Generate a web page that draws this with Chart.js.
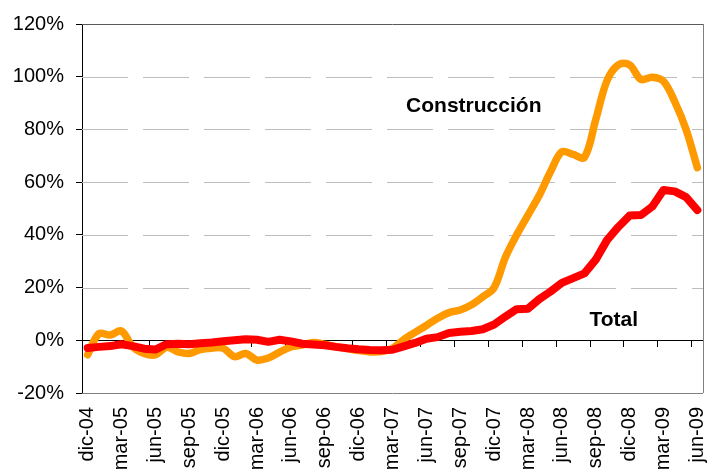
<!DOCTYPE html>
<html>
<head>
<meta charset="utf-8">
<script src="https://cdn.jsdelivr.net/npm/chart.js@4/dist/chart.umd.min.js"></script>
<style>
  body { margin: 0; background: #fff; overflow: hidden; }
  #grafico { display: block; }
</style>
</head>
<body>
<canvas id="grafico" width="709" height="472"></canvas>
<script>
const etiquetasMeses = [
    'dic-04',
    'ene-05', 'feb-05', 'mar-05', 'abr-05', 'may-05', 'jun-05', 'jul-05', 'ago-05', 'sep-05', 'oct-05', 'nov-05', 'dic-05',
    'ene-06', 'feb-06', 'mar-06', 'abr-06', 'may-06', 'jun-06', 'jul-06', 'ago-06', 'sep-06', 'oct-06', 'nov-06', 'dic-06',
    'ene-07', 'feb-07', 'mar-07', 'abr-07', 'may-07', 'jun-07', 'jul-07', 'ago-07', 'sep-07', 'oct-07', 'nov-07', 'dic-07',
    'ene-08', 'feb-08', 'mar-08', 'abr-08', 'may-08', 'jun-08', 'jul-08', 'ago-08', 'sep-08', 'oct-08', 'nov-08', 'dic-08',
    'ene-09', 'feb-09', 'mar-09', 'abr-09', 'may-09', 'jun-09'
];

const construccion = [
    -5.5, 2.5, 2.0, 3.5, -2.5, -5.0, -5.5, -2.7, -4.4, -5.0, -3.5, -3.0, -3.0,
    -6.2, -5.0, -7.5, -6.7, -4.5, -2.5, -1.8, -0.8, -1.5, -2.5, -3.1, -3.9,
    -4.4, -4.3, -3.0, 0.3, 3.0, 5.6, 8.4, 10.5, 11.5, 13.5, 16.5, 20.0,
    31.5, 40.0, 47.5, 55.0, 64.0, 71.5, 70.5, 69.4, 83.7, 98.5, 104.5, 104.5,
    99.0, 99.8, 98.3, 90.5, 80.0, 65.5
];

const total = [
    -2.9, -2.5, -2.2, -1.5, -2.2, -3.2, -3.5, -1.5, -1.3, -1.5, -1.1, -0.8, -0.4,
    0.0, 0.4, 0.2, -0.6, 0.2, -0.4, -1.3, -1.6, -1.9, -2.5, -3.0, -3.4,
    -3.7, -3.8, -3.6, -2.3, -1.0, 0.6, 1.2, 2.8, 3.2, 3.5, 4.2, 6.0,
    9.0, 11.8, 12.0, 15.6, 18.5, 21.8, 23.6, 25.4, 30.6, 38.0, 43.0, 47.3,
    47.5, 50.7, 57.0, 56.5, 54.3, 49.4
];

// textos dentro del grafico (posicion en indice de mes y valor en %)
const anotaciones = [
    { texto: 'Construcción', indice: 34.2, valor: 89 },
    { texto: 'Total', indice: 46.6, valor: 7.5 }
];

const fuente = "'Liberation Sans', Arial, sans-serif";
const esBorde = v => v === 0 || v === 120 || v === -20;

const marcoYTextos = {
    id: 'marcoYTextos',
    beforeDatasetsDraw(chart) {
        const { ctx, chartArea: a } = chart;
        const ejeY = chart.scales.y;
        ctx.save();
        // lineas de division discontinuas
        ctx.lineWidth = 1;
        ctx.strokeStyle = '#bdbdbd';
        ctx.setLineDash([46, 15]);
        ejeY.ticks.forEach(t => {
            if (esBorde(t.value)) return;
            const y = Math.round(ejeY.getPixelForValue(t.value)) + 0.5;
            ctx.beginPath();
            ctx.moveTo(a.left, y);
            ctx.lineTo(a.right, y);
            ctx.stroke();
        });
        ctx.setLineDash([]);
        ctx.strokeStyle = '#5a5a5a';
        ctx.beginPath();
        ctx.moveTo(a.left, a.top + 0.5);
        ctx.lineTo(a.right, a.top + 0.5);
        ctx.stroke();
        ctx.strokeStyle = '#808080';
        ctx.beginPath();
        ctx.moveTo(a.right + 0.5, a.top);
        ctx.lineTo(a.right + 0.5, a.bottom);
        ctx.moveTo(a.left, a.bottom + 0.5);
        ctx.lineTo(a.right, a.bottom + 0.5);
        ctx.stroke();
        ctx.restore();
    },
    afterDatasetsDraw(chart) {
        const { ctx } = chart;
        const ejeX = chart.scales.x;
        const ejeY = chart.scales.y;
        ctx.save();
        ctx.fillStyle = '#000';
        ctx.font = 'bold 21px ' + fuente;
        ctx.textAlign = 'center';
        ctx.textBaseline = 'middle';
        anotaciones.forEach(a => {
            ctx.fillText(a.texto, ejeX.getPixelForValue(a.indice), ejeY.getPixelForValue(a.valor));
        });
        ctx.restore();
    }
};

new Chart(document.getElementById('grafico'), {
    type: 'line',
    data: {
        labels: etiquetasMeses,
        datasets: [
            {
                label: 'Construcción',
                data: construccion,
                borderColor: '#FF9900',
                borderWidth: 7.5,
                tension: 0.35,
                pointRadius: 0,
                borderCapStyle: 'round',
                borderJoinStyle: 'round',
                order: 2
            },
            {
                label: 'Total',
                data: total,
                borderColor: '#FF0000',
                borderWidth: 8,
                tension: 0,
                pointRadius: 0,
                borderCapStyle: 'round',
                borderJoinStyle: 'round',
                order: 1
            }
        ]
    },
    options: {
        responsive: false,
        animation: false,
        layout: { padding: { top: 19, right: 6, left: 0, bottom: 0 } },
        plugins: {
            legend: { display: false },
            tooltip: { enabled: false }
        },
        scales: {
            x: {
                type: 'category',
                position: { y: 0 },
                offset: true,
                ticks: { display: false, autoSkip: false },
                grid: {
                    offset: true,
                    drawOnChartArea: false,
                    drawTicks: true,
                    tickLength: 6,
                    tickColor: c => (c.index % 3 === 0 ? '#000' : 'rgba(0,0,0,0)')
                },
                border: { display: true, color: '#000', width: 1 }
            },
            x2: {
                type: 'category',
                position: 'bottom',
                offset: true,
                grid: { display: false, drawTicks: false },
                border: { display: false },
                ticks: {
                    autoSkip: false,
                    minRotation: 90,
                    maxRotation: 90,
                    padding: 14,
                    color: '#000',
                    font: { size: 20, family: fuente },
                    callback: (v, i) => (i % 3 === 0 ? etiquetasMeses[i] : '')
                },
                afterFit: eje => {
                    eje.height = 79;
                    eje.paddingLeft = 0;
                    eje.paddingRight = 0;
                }
            },
            y: {
                min: -20,
                max: 120,
                ticks: {
                    stepSize: 20,
                    padding: 12,
                    color: '#000',
                    font: { size: 20, family: fuente },
                    callback: v => v + '%'
                },
                grid: {
                    drawOnChartArea: false,
                    tickLength: 6,
                    tickColor: '#000'
                },
                border: { display: true, color: '#000', width: 1 },
                afterFit: eje => { eje.width = 82; }
            }
        }
    },
    plugins: [marcoYTextos]
});
</script>
</body>
</html>
